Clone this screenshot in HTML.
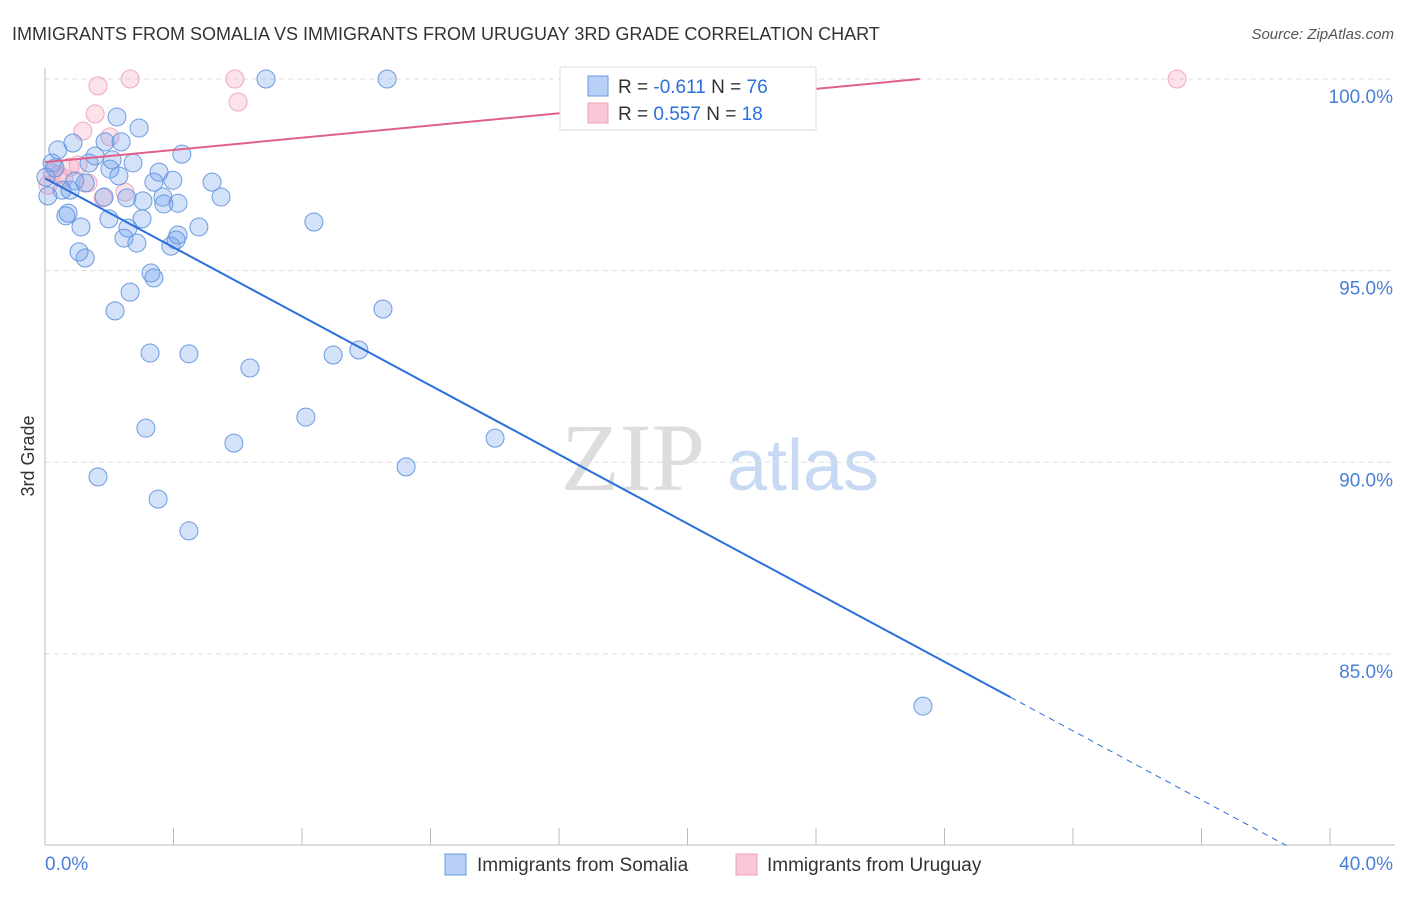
<!DOCTYPE html>
<html><head><meta charset="utf-8"><style>
body{margin:0;background:#fff;font-family:"Liberation Sans",sans-serif}
</style></head><body>
<svg id="c" width="1406" height="892" xmlns="http://www.w3.org/2000/svg">
<text x="12" y="40" font-size="18" fill="#333">IMMIGRANTS FROM SOMALIA VS IMMIGRANTS FROM URUGUAY 3RD GRADE CORRELATION CHART</text>
<text x="1394" y="39" font-size="15" fill="#555" font-style="italic" text-anchor="end">Source: ZipAtlas.com</text>
<text x="34" y="456" font-size="18" fill="#333" transform="rotate(-90 34 456)" text-anchor="middle">3rd Grade</text>
<g>
<text x="633" y="490" font-size="96" font-family="Liberation Serif,serif" fill="#ddd" text-anchor="middle">ZIP</text>
<text x="803" y="490" font-size="72" fill="#c8daf3" text-anchor="middle">atlas</text>
</g>
<g id="grid"></g><g id="pts"></g><g id="lines"></g>
<g>
<rect x="560" y="67" width="256" height="63" fill="#fff" stroke="#ddd"/>
<rect x="588" y="76" width="20" height="20" fill="#b8d0f5" stroke="#6a9ae0"/>
<rect x="588" y="103" width="20" height="20" fill="#f8c8d6" stroke="#eea0b8"/>
<text x="618" y="93" font-size="19" fill="#333">R = <tspan fill="#2a6fdb">-0.611</tspan>   N = <tspan fill="#2a6fdb">76</tspan></text>
<text x="618" y="120" font-size="19" fill="#333">R = <tspan fill="#2a6fdb"> 0.557</tspan>   N = <tspan fill="#2a6fdb">18</tspan></text>
</g>
<g>
<rect x="445" y="854" width="21" height="21" fill="#b8d0f5" stroke="#6a9ae0"/>
<text x="477" y="871" font-size="19" fill="#333">Immigrants from Somalia</text>
<rect x="736" y="854" width="21" height="21" fill="#f8c8d6" stroke="#eea0b8"/>
<text x="767" y="871" font-size="19" fill="#333">Immigrants from Uruguay</text>
</g>
</svg>
<script>
const somaliaX=[6.88,10.65,2.24,2.93,0.87,1.87,2.37,0.40,4.26,1.56,2.09,1.37,2.74,0.22,2.02,0.31,3.55,2.30,0.03,0.93,1.25,3.98,3.39,5.20,0.53,1.84,2.55,3.05,3.67,5.48,3.70,4.14,0.09,0.72,1.99,3.02,8.37,1.12,2.58,4.79,2.46,4.14,4.08,2.86,3.92,1.06,1.25,3.30,3.39,2.65,10.52,2.18,3.27,4.48,8.97,9.77,6.38,8.12,3.14,5.88,14.01,11.24,1.65,3.52,4.48,27.33,0.65,0.78];
const somaliaY=[100,100,99.01,98.72,98.33,98.36,98.36,98.15,98.04,97.99,97.89,97.81,97.81,97.81,97.65,97.68,97.57,97.47,97.44,97.34,97.29,97.36,97.31,97.31,97.10,96.92,96.90,96.82,96.92,96.92,96.74,96.76,96.95,96.50,96.35,96.35,96.27,96.14,96.11,96.14,95.85,95.93,95.80,95.72,95.64,95.49,95.33,94.94,94.81,94.44,94.00,93.95,92.85,92.83,92.80,92.93,92.46,91.18,90.89,90.50,90.63,89.88,89.62,89.04,88.21,83.64,96.43,97.10];
const uruguayX=[1.65,2.65,5.91,6.01,23.53,35.24,1.56,1.18,2.02,1.03,0.40,0.59,1.34,2.49,1.81,0.22,0.78,0.09];
const uruguayY=[99.82,100,100,99.40,100,100,99.09,98.64,98.49,97.76,97.50,97.42,97.29,97.05,96.90,97.55,97.70,97.23];
const yTicks=[100,95,90,85];
const yTickLabels=["100.0%","95.0%","90.0%","85.0%"];
const xTicks=[0,4,8,12,16,20,24,28,32,36,40];
const somaliaTrend=[97.41,-0.4505,30.05];
const uruguayTrend=[97.83,0.0797];
const NS="http://www.w3.org/2000/svg";
const X=v=>45+v/40*1285, Y=v=>79+(100-v)*38.33;
function mk(p,t,a){const e=document.createElementNS(NS,t);for(const k in a)e.setAttribute(k,a[k]);p.appendChild(e);return e;}
const g=document.getElementById('grid');
yTicks.forEach((t,i)=>{
 const l=mk(g,'line',{x1:45,x2:1395,y1:Y(t),y2:Y(t),stroke:'#ddd','stroke-dasharray':'5,4'});
 
 
 const tx=mk(g,'text',{x:1393,y:Y(t)+24,'font-size':19,fill:'#4a7fd8','text-anchor':'end'});tx.textContent=yTickLabels[i];
 
 
});
const ax=mk(g,'line',{x1:45,x2:45,y1:68,y2:845,stroke:'#bbb'});


const bx=mk(g,'line',{x1:45,x2:1395,y1:845,y2:845,stroke:'#bbb'});


xTicks.forEach(t=>{const l=mk(g,'line',{x1:X(t),x2:X(t),y1:828,y2:845,stroke:'#bbb'});
 
 });
const xl0=mk(g,'text',{x:45,y:870,'font-size':19,fill:'#4a7fd8'});xl0.textContent='0.0%';


const xl1=mk(g,'text',{x:1393,y:870,'font-size':19,fill:'#4a7fd8','text-anchor':'end'});xl1.textContent='40.0%';


const P=document.getElementById('pts');
uruguayX.forEach((x,i)=>{const c=mk(P,'circle',{cx:X(x),cy:Y(uruguayY[i]),r:9,fill:'rgba(244,160,188,0.3)',stroke:'#f0a8c0'});
 
 });
somaliaX.forEach((x,i)=>{const c=mk(P,'circle',{cx:X(x),cy:Y(somaliaY[i]),r:9,fill:'rgba(110,160,235,0.3)',stroke:'#6a9ae0'});
 
 });
const L=document.getElementById('lines');
const sf=x=>somaliaTrend[0]+somaliaTrend[1]*x;
const s1=mk(L,'line',{x1:X(0),y1:Y(sf(0)),x2:X(somaliaTrend[2]),y2:Y(sf(somaliaTrend[2])),stroke:'#2a6fdb','stroke-width':2});


const xe=(80-somaliaTrend[0])/somaliaTrend[1];
const s2=mk(L,'line',{x1:X(somaliaTrend[2]),y1:Y(sf(somaliaTrend[2])),x2:X(xe),y2:Y(80),stroke:'#2a6fdb','stroke-width':1,'stroke-dasharray':'6,5'});


const ue=(100-uruguayTrend[0])/uruguayTrend[1];
const u1=mk(L,'line',{x1:X(0),y1:Y(uruguayTrend[0]),x2:X(ue),y2:Y(100),stroke:'#e0608a','stroke-width':2});


</script>
</body></html>
